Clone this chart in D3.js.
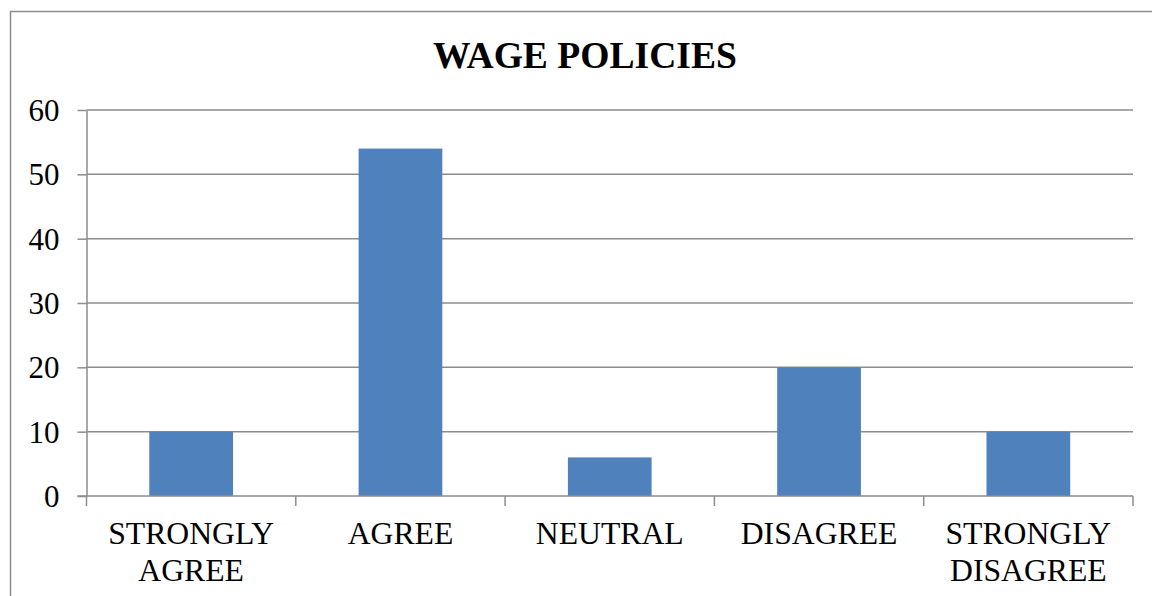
<!DOCTYPE html>
<html><head><meta charset="utf-8">
<script src="https://cdn.jsdelivr.net/npm/d3@7/dist/d3.min.js"></script>
<style>body{margin:0;background:#fff}svg{display:block}</style>
</head><body>
<script>
const categories = [["STRONGLY","AGREE"],["AGREE"],["NEUTRAL"],["DISAGREE"],["STRONGLY","DISAGREE"]];
const values = [10, 54, 6, 20, 10];
const yTicks = [0, 10, 20, 30, 40, 50, 60];
const title = "WAGE POLICIES";

(function(){
const W = 1152, H = 596;
const svg = d3.select("body").append("svg").attr("width", W).attr("height", H);
const font = "'Liberation Serif','Times New Roman',serif";
const grid = "#8c8c8c";

// outer frame
svg.append("path").attr("d", `M10.5,${H} V11.5 H${W}`).attr("fill","none").attr("stroke",grid).attr("stroke-width",1.5);

const pL = 86.5, pR = 1133, pT = 110, pB = 496;
const keys = categories.map((c,i)=>i);
const x = d3.scaleBand().domain(keys).range([pL, pR]).paddingInner(0.6).paddingOuter(0.3);
const xc = d3.scaleBand().domain(keys).range([pL, pR]).padding(0);
const y = d3.scaleLinear().domain([0, 60]).range([pB, pT]);

// gridlines
svg.append("g").selectAll("line").data(yTicks.filter(t=>t>0)).join("line")
  .attr("x1", pL).attr("x2", pR).attr("y1", d=>y(d)).attr("y2", d=>y(d))
  .attr("stroke", grid).attr("stroke-width", 1.5);

// bars
svg.append("g").selectAll("rect").data(values).join("rect")
  .attr("x", (d,i)=>x(i)).attr("width", x.bandwidth())
  .attr("y", d=>y(d)).attr("height", d=>y(0)-y(d))
  .attr("fill", "#4F81BD");

// y axis
const ya = svg.append("g").attr("transform", `translate(${pL},0)`)
  .call(d3.axisLeft(y).tickValues(yTicks).tickSize(9).tickPadding(18).tickSizeOuter(0));
ya.select(".domain").attr("stroke", grid).attr("stroke-width", 1.5);
ya.selectAll(".tick line").attr("stroke", grid).attr("stroke-width", 1.5);
ya.selectAll(".tick text").attr("font-family", font).attr("font-size", 31).attr("fill", "#000").attr("dy","0.34em");

// x axis line and ticks at category boundaries
svg.append("line").attr("x1", pL-9).attr("x2", pR).attr("y1", pB).attr("y2", pB)
  .attr("stroke", grid).attr("stroke-width", 1.5);
const bounds = keys.map(k=>xc(k)).concat([pR]);
svg.append("g").selectAll("line").data(bounds).join("line")
  .attr("x1", d=>d).attr("x2", d=>d).attr("y1", pB).attr("y2", pB+10)
  .attr("stroke", grid).attr("stroke-width", 1.5);

// category labels
const lab = svg.append("g").selectAll("text").data(categories).join("text")
  .attr("font-family", font).attr("font-size", 31.7).attr("text-anchor","middle").attr("fill","#000");
lab.each(function(d,i){
  const t = d3.select(this);
  d.forEach((s,j)=>{
    t.append("tspan").attr("x", xc(i)+xc.bandwidth()/2).attr("y", 544 + j*37).text(s);
  });
});

// title
svg.append("text").attr("x", 585).attr("y", 68).attr("text-anchor","middle")
  .attr("font-family", font).attr("font-weight","bold").attr("font-size", 37.6).attr("fill","#000").text(title);
})();
</script>
</body></html>
